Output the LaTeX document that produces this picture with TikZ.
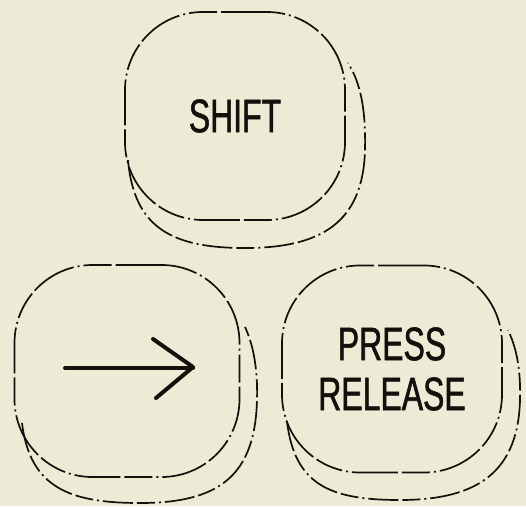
\documentclass[tikz,border=0pt]{standalone}
\usepackage{fontspec}
\usepackage{tikz}
\usetikzlibrary{positioning}
\newfontfamily\keyfont[FakeStretch=0.68,FakeBold=1.2]{Liberation Sans}
\definecolor{kbPaper}{HTML}{EDEBD6}
\definecolor{kbInk}{HTML}{14110D}

\begin{document}
\begin{tikzpicture}[x=1pt,y=-1pt,
  k/.style={draw=kbInk,line width=1.7pt,rounded corners=78pt,
            dash pattern=on 46pt off 4pt on 28pt off 4pt on 2pt off 4pt,
            font=\keyfont\fontsize{47}{50}\selectfont,text=kbInk,align=center,
            inner sep=0pt},
  sk/.style={draw=kbInk,line width=1.7pt,
             dash pattern=on 30pt off 4pt on 18pt off 4pt on 2pt off 4pt},
  ar/.style={draw=kbInk,line width=4pt,line cap=round,line join=round}]
% paper
\fill[kbPaper] (0,0) rectangle (526,506);
\useasboundingbox (0,0) rectangle (526,506);
% keys
\node[k,minimum width=220pt,minimum height=208pt] (shift) at (235,116) {SHIFT};
\node[k,minimum width=225pt,minimum height=212pt] (arrowkey) at (127,371) {};
\node[k,minimum width=220pt,minimum height=207pt] (press) at (392,369) {PRESS\\RELEASE};
% skirts
\draw[sk] (128,160) .. controls (134,228) and (172,248) .. (245,248)
  .. controls (322,248) and (363,222) .. (365,150) .. controls (366,108) and (360,82) .. (348,63);
\draw[sk] (22,423) .. controls (30,488) and (70,503) .. (140,503)
  .. controls (220,503) and (255,475) .. (257,400) .. controls (258,365) and (252,342) .. (245,327);
\draw[sk] (287,422) .. controls (295,485) and (330,500) .. (400,500)
  .. controls (480,500) and (518,470) .. (520,400) .. controls (521,365) and (515,345) .. (508,330);
% arrow
\draw[ar] (65,368) -- (193,368);
\draw[ar] (153,339) -- (193,367) -- (156,398);
\end{tikzpicture}
\end{document}
